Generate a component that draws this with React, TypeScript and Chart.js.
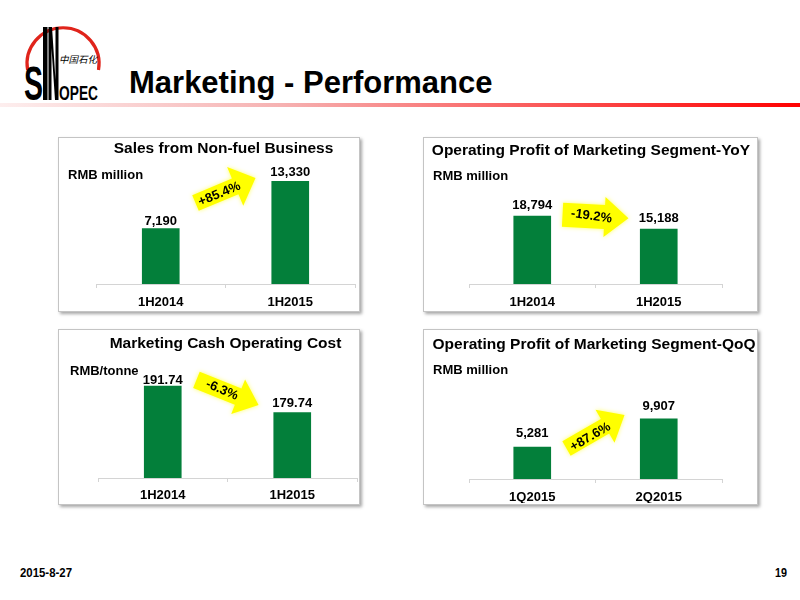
import React, { useEffect, useRef } from "react";
import { Chart, registerables } from "chart.js";

Chart.register(...registerables);

const FONT = "'Liberation Sans', Arial, Helvetica, sans-serif";
const NARROW = "'Liberation Sans Narrow', 'Arial Narrow', 'Liberation Sans', Arial, sans-serif";
const GREEN = "#037f3a";

// ---- data ----
const nonFuelCategories = ["1H2014", "1H2015"];
const nonFuelSales = [7190, 13330];
const yoyCategories = ["1H2014", "1H2015"];
const yoyProfit = [18794, 15188];
const costCategories = ["1H2014", "1H2015"];
const cashCost = [191.74, 179.74];
const qoqCategories = ["1Q2015", "2Q2015"];
const qoqProfit = [5281, 9907];
const changeLabels = ["+85.4%", "-19.2%", "-6.3%", "+87.6%"];

type Arrow = {
  text: string;
  at: number;
  angle: number;
  length: number;
  body: number;
  head: number;
  headLen: number;
  textShift: number;
  textPerp: number;
  textAngle: number;
};

type Panel = {
  left: number;
  top: number;
  width: number;
  height: number;
  title: string;
  titleX: number;
  titleY: number;
  unit: string;
  unitX: number;
  unitY: number;
  categories: string[];
  values: number[];
  decimals: number;
  yMin: number;
  yMax: number;
  padding: { left: number; right: number; top: number; bottom: number };
  labelGap: number[];
  tickPad: number;
  arrow: Arrow;
};

const panels: Panel[] = [
  {
    left: 58, top: 137, width: 302, height: 175,
    title: "Sales from Non-fuel Business", titleX: 165.5, titleY: 12,
    unit: "RMB million", unitX: 10, unitY: 38,
    categories: nonFuelCategories, values: nonFuelSales, decimals: 0,
    yMin: 0, yMax: 15000,
    padding: { left: 38, right: 5, top: 31.5, bottom: 4 },
    labelGap: [4, 5], tickPad: 7,
    arrow: { text: changeLabels[0], at: 12143, angle: -22.6, length: 65, body: 17, head: 42, headLen: 22, textShift: -7, textPerp: 1, textAngle: -22.6 },
  },
  {
    left: 423, top: 137, width: 335, height: 175,
    title: "Operating Profit of Marketing Segment-YoY", titleX: 168, titleY: 14,
    unit: "RMB million", unitX: 10, unitY: 39,
    categories: yoyCategories, values: yoyProfit, decimals: 0,
    yMin: 0, yMax: 30000,
    padding: { left: 46, right: 36, top: 38.4, bottom: 4 },
    labelGap: [7, 7], tickPad: 7,
    arrow: { text: changeLabels[1], at: 18646, angle: 3, length: 66, body: 24, head: 40, headLen: 24, textShift: -4, textPerp: 0, textAngle: 8 },
  },
  {
    left: 58, top: 329, width: 302, height: 176,
    title: "Marketing Cash Operating Cost", titleX: 167.5, titleY: 15,
    unit: "RMB/tonne", unitX: 12, unitY: 42,
    categories: costCategories, values: cashCost, decimals: 2,
    yMin: 150, yMax: 200,
    padding: { left: 40, right: 3, top: 39, bottom: 3 },
    labelGap: [2, 6], tickPad: 6,
    arrow: { text: changeLabels[2], at: 188.9, angle: 22, length: 67, body: 17.5, head: 37, headLen: 22, textShift: -6, textPerp: 0, textAngle: 23 },
  },
  {
    left: 423, top: 329, width: 335, height: 176,
    title: "Operating Profit of Marketing Segment-QoQ", titleX: 171, titleY: 16,
    unit: "RMB million", unitX: 10, unitY: 41,
    categories: qoqCategories, values: qoqProfit, decimals: 0,
    yMin: 0, yMax: 18000,
    padding: { left: 46, right: 36, top: 40.9, bottom: 2 },
    labelGap: [10, 9], tickPad: 7,
    arrow: { text: changeLabels[3], at: 7797, angle: -30, length: 67, body: 16.5, head: 38, headLen: 22.5, textShift: -7, textPerp: 2, textAngle: -30.5 },
  },
];

function formatValue(v: number, decimals: number): string {
  if (decimals > 0) return v.toFixed(decimals);
  return v.toLocaleString("en-US");
}

function PanelChart({ p }: { p: Panel }) {
  const ref = useRef<HTMLCanvasElement>(null);
  useEffect(() => {
    const canvas = ref.current;
    if (!canvas) return;
    const panelText = {
      id: "panelText",
      afterDatasetsDraw(chart: any) {
        const ctx: CanvasRenderingContext2D = chart.ctx;
        const xs = chart.scales.x;
        const ys = chart.scales.y;
        const a = p.arrow;
        // change arrow
        const cx = xs.getPixelForValue(0.5);
        const cy = ys.getPixelForValue(a.at);
        ctx.save();
        ctx.translate(cx, cy);
        ctx.rotate((a.angle * Math.PI) / 180);
        const h = a.length / 2;
        const hb = h - a.headLen;
        ctx.beginPath();
        ctx.moveTo(-h, -a.body / 2);
        ctx.lineTo(hb, -a.body / 2);
        ctx.lineTo(hb, -a.head / 2);
        ctx.lineTo(h, 0);
        ctx.lineTo(hb, a.head / 2);
        ctx.lineTo(hb, a.body / 2);
        ctx.lineTo(-h, a.body / 2);
        ctx.closePath();
        ctx.shadowColor = "rgba(255,255,90,0.9)";
        ctx.shadowBlur = 4;
        ctx.fillStyle = "#ffff00";
        ctx.fill();
        ctx.shadowBlur = 0;
        ctx.shadowColor = "transparent";
        ctx.translate(a.textShift, a.textPerp);
        ctx.rotate(((a.textAngle - a.angle) * Math.PI) / 180);
        ctx.fillStyle = "#000";
        ctx.font = `bold 13px ${FONT}`;
        ctx.textAlign = "center";
        ctx.textBaseline = "middle";
        ctx.fillText(a.text, 0, 0);
        ctx.restore();

        // value labels
        const meta = chart.getDatasetMeta(0);
        ctx.save();
        ctx.fillStyle = "#000";
        ctx.font = `bold 13px ${FONT}`;
        ctx.textAlign = "center";
        ctx.textBaseline = "alphabetic";
        meta.data.forEach((bar: any, i: number) => {
          ctx.fillText(formatValue(p.values[i], p.decimals), bar.x, bar.y - p.labelGap[i]);
        });
        ctx.restore();
      },
      afterDraw(chart: any) {
        const ctx: CanvasRenderingContext2D = chart.ctx;
        ctx.save();
        ctx.fillStyle = "#000";
        ctx.textBaseline = "middle";
        ctx.font = `bold 15.5px ${FONT}`;
        ctx.textAlign = "center";
        ctx.fillText(p.title, p.titleX, p.titleY);
        ctx.font = `bold 13px ${FONT}`;
        ctx.textAlign = "left";
        ctx.fillText(p.unit, p.unitX, p.unitY);
        ctx.restore();
      },
    };
    const chart = new Chart(canvas, {
      type: "bar",
      data: {
        labels: p.categories,
        datasets: [
          {
            data: p.values,
            backgroundColor: GREEN,
            borderWidth: 0,
            barThickness: 37,
          },
        ],
      },
      options: {
        responsive: false,
        animation: false,
        events: [],
        layout: { padding: p.padding },
        plugins: {
          legend: { display: false },
          tooltip: { enabled: false },
          title: { display: false },
        },
        scales: {
          x: {
            grid: {
              display: true,
              drawOnChartArea: false,
              drawTicks: true,
              tickLength: 4,
              color: "#d4d4d4",
              lineWidth: 1,
            },
            border: { display: true, color: "#d4d4d4", width: 1 },
            ticks: {
              color: "#000",
              font: { family: FONT, size: 13, weight: "bold" },
              padding: p.tickPad,
              maxRotation: 0,
              autoSkip: false,
            },
            afterFit: (s: any) => {
              s.height = 24;
            },
          },
          y: { display: false, min: p.yMin, max: p.yMax },
        },
      } as any,
      plugins: [panelText],
    });
    return () => chart.destroy();
  }, [p]);

  return (
    <div style={{ position: "absolute", left: p.left, top: p.top, width: p.width, height: p.height }}>
      <div
        style={{
          position: "absolute",
          left: 0,
          top: 0,
          width: p.width,
          height: p.height,
          boxSizing: "border-box",
          border: "1px solid #c4c4c4",
          boxShadow: "2px 2px 3px rgba(0,0,0,0.35)",
          background: "#fff",
        }}
      />
      <canvas ref={ref} width={p.width} height={p.height} style={{ position: "absolute", left: 0, top: 0 }} />
    </div>
  );
}

function Header() {
  return (
    <svg width={800} height={600} style={{ position: "absolute", left: 0, top: 0 }}>
      <defs>
        <linearGradient id="rule" x1="0" x2="1" y1="0" y2="0">
          <stop offset="0" stopColor="#fdeeee" />
          <stop offset="0.35" stopColor="#f6b2b2" />
          <stop offset="1" stopColor="#ff0000" />
        </linearGradient>
      </defs>
      <rect x={0} y={103} width={800} height={4} fill="url(#rule)" />
      {/* logo */}
      <path d="M 27.6 70 A 36 36 0 1 1 98.5 70" stroke="#e0241b" strokeWidth={3.2} fill="none" />
      <text x={24} y={100} fontFamily={NARROW} fontWeight="bold" fontSize={48} textLength={19} lengthAdjust="spacingAndGlyphs" fill="#000">S</text>
      <rect x={43} y={27} width={4.5} height={73} fill="#000" />
      <polygon points="48.5,27 52,27 55.5,80 55.5,27 58.5,27 58.5,100 55,100 51.5,48 51.5,100 48.5,100" fill="#000" />
      <text x={59} y={63} fontFamily="'Noto Sans CJK SC', sans-serif" fontSize={9.5} fontStyle="italic" fill="#000">中国石化</text>
      <text x={59} y={100} fontFamily={NARROW} fontWeight="bold" fontSize={20} textLength={39} lengthAdjust="spacingAndGlyphs" fill="#000">OPEC</text>
      {/* title */}
      <text x={129} y={93} fontFamily={FONT} fontWeight="bold" fontSize={31} fill="#000">Marketing - Performance</text>
      {/* footer */}
      <text x={20} y={577} fontFamily={NARROW} fontWeight="bold" fontSize={13} textLength={52} lengthAdjust="spacingAndGlyphs" fill="#000">2015-8-27</text>
      <text x={787} y={577} textAnchor="end" fontFamily={NARROW} fontWeight="bold" fontSize={13} textLength={12} lengthAdjust="spacingAndGlyphs" fill="#000">19</text>
    </svg>
  );
}

export default function App() {
  return (
    <div style={{ position: "absolute", left: 0, top: 0, width: 800, height: 600, background: "#fff", overflow: "hidden" }}>
      <Header />
      {panels.map((p, i) => (
        <PanelChart key={i} p={p} />
      ))}
    </div>
  );
}
